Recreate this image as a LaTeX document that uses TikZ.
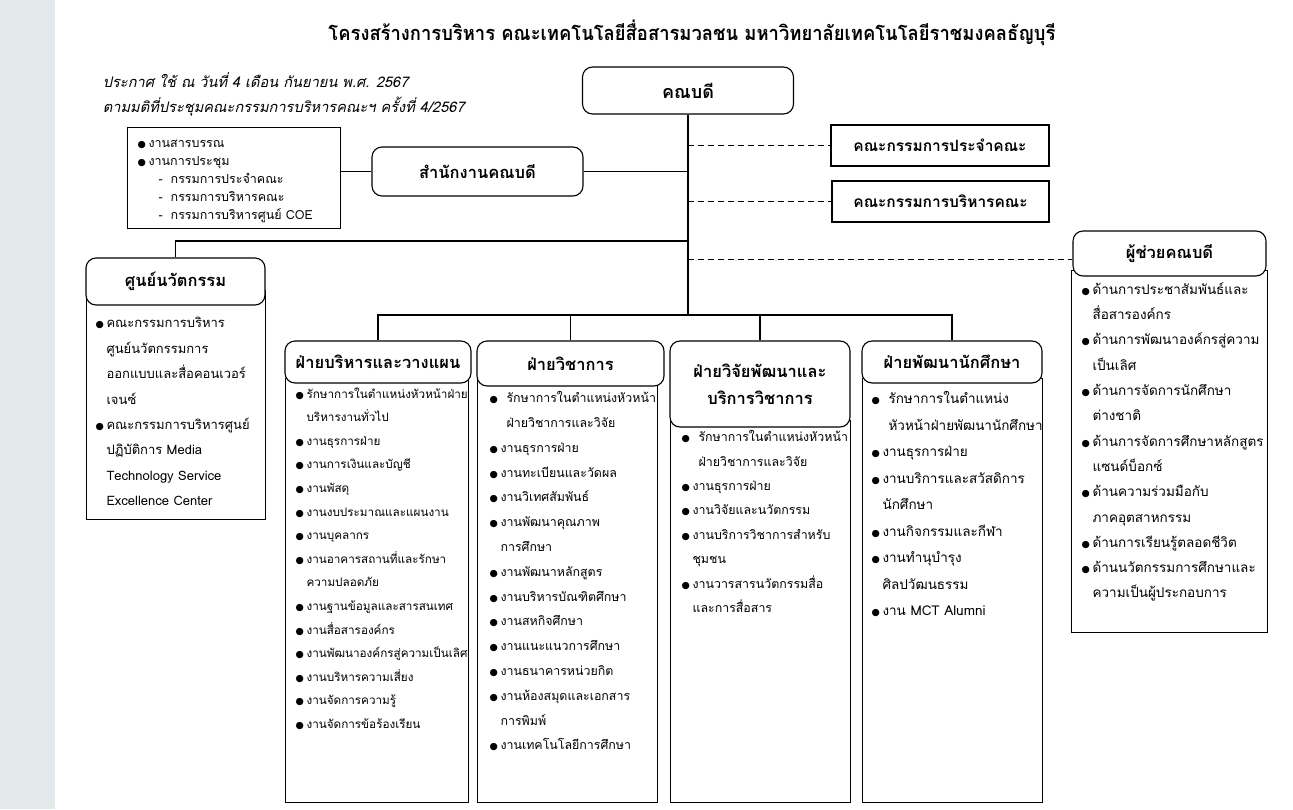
\documentclass[tikz,border=0pt]{standalone}
\usepackage{fontspec}
\setmainfont[Script=Thai]{Loma}
\newfontfamily\titlefont[Script=Thai, FakeStretch=0.92]{Loma}
\newfontfamily\symfont{DejaVu Sans}
\usepackage{xcolor}
\usepackage{tikz}
\usetikzlibrary{positioning}
\definecolor{stripgray}{HTML}{E3E9EB}
\tikzstyle{head} = [draw, rounded corners=10pt, fill=white, align=center, inner sep=0pt, font=\fontsize{16.5}{27}\selectfont\bfseries]
\tikzstyle{plainbox} = [draw, rectangle, fill=white, align=center, inner sep=0pt, font=\fontsize{15.5}{18}\selectfont\bfseries]
\tikzstyle{listbox} = [draw, rectangle, anchor=north west, inner sep=0pt]
\tikzstyle{items} = [anchor=north west, align=left, inner sep=0pt]
\tikzstyle{dashline} = [dash pattern=on 6pt off 4pt, line width=0.9pt]
\newcommand{\bl}{\makebox[11pt][l]{\symfont\fontsize{9.5}{9}\selectfont ●}}
\newcommand{\ct}{\hspace*{11pt}}
\newcommand{\blw}{\makebox[17pt][l]{\symfont\fontsize{9.5}{9}\selectfont ●}}
\newcommand{\ctw}{\hspace*{17pt}}

\begin{document}
\begin{tikzpicture}[x=1pt, y=-1pt, line width=1.1pt]
    % พื้นหลัง
    \useasboundingbox (0,0) rectangle (1293,809);
    \fill[white] (0,0) rectangle (1293,809);
    \fill[stripgray] (0,0) rectangle (55,809);

    % หัวเรื่อง
    \node [font=\titlefont\fontsize{20}{24}\selectfont\bfseries] (title) at (692,33) {โครงสร้างการบริหาร คณะเทคโนโลยีสื่อสารมวลชน มหาวิทยาลัยเทคโนโลยีราชมงคลธัญบุรี};
    \node [anchor=west, font=\fontsize{14.6}{18}\selectfont\itshape] (note1) at (99,80) {ประกาศ ใช้ ณ วันที่ 4 เดือน กันยายน พ.ศ. 2567};
    \node [anchor=west, font=\fontsize{14.6}{18}\selectfont\itshape] (note2) at (99,107) {ตามมติที่ประชุมคณะกรรมการบริหารคณะฯ ครั้งที่ 4/2567};

    % คณบดี และ สำนักงาน
    \node [head, minimum width=211pt, minimum height=47pt, font=\fontsize{18}{22}\selectfont\bfseries] (dean) at (688,90.5) {คณบดี};
    \node [head, minimum width=211pt, minimum height=49pt] (office) at (477.5,171.5) {สำนักงานคณบดี};
    \node [listbox, minimum width=213pt, minimum height=101pt] (secbox) at (127,127) {};
    \node [items, font=\fontsize{12.5}{17.8}\selectfont] (secitems) at (137,140) {\bl งานสารบรรณ\\ \bl งานการประชุม\\ \hspace*{21pt}-\hspace*{8pt}กรรมการประจำคณะ\\ \hspace*{21pt}-\hspace*{8pt}กรรมการบริหารคณะ\\ \hspace*{21pt}-\hspace*{8pt}กรรมการบริหารศูนย์ COE};

    % คณะกรรมการ
    \node [plainbox, minimum width=218pt, minimum height=41pt] (board1) at (940,145.5) {คณะกรรมการประจำคณะ};
    \node [plainbox, minimum width=217pt, minimum height=41pt] (board2) at (940.5,201.5) {คณะกรรมการบริหารคณะ};

    % ศูนย์นวัตกรรม
    \node [listbox, minimum width=179pt, minimum height=229pt] (innovbox) at (86,290) {};
    \node [head, minimum width=179pt, minimum height=47pt] (innov) at (175.5,281.5) {ศูนย์นวัตกรรม};
    \node [items, font=\fontsize{13}{25.4}\selectfont] (innovitems) at (95,317) {\bl คณะกรรมการบริหาร\\ \ct ศูนย์นวัตกรรมการ\\ \ct ออกแบบและสื่อคอนเวอร์\\ \ct เจนซ์\\ \bl คณะกรรมการบริหารศูนย์\\ \ct ปฏิบัติการ Media\\ \ct Technology Service\\ \ct Excellence Center};

    % ผู้ช่วยคณบดี
    \node [listbox, minimum width=196pt, minimum height=362pt] (asstbox) at (1071,270) {};
    \node [head, minimum width=193pt, minimum height=45pt] (asst) at (1169.5,253.5) {ผู้ช่วยคณบดี};
    \node [items, font=\fontsize{13.5}{25.3}\selectfont] (asstitems) at (1081,282) {\bl ด้านการประชาสัมพันธ์และ\\ \ct สื่อสารองค์กร\\ \bl ด้านการพัฒนาองค์กรสู่ความ\\ \ct เป็นเลิศ\\ \bl ด้านการจัดการนักศึกษา\\ \ct ต่างชาติ\\ \bl ด้านการจัดการศึกษาหลักสูตร\\ \ct แซนด์บ็อกซ์\\ \bl ด้านความร่วมมือกับ\\ \ct ภาคอุตสาหกรรม\\ \bl ด้านการเรียนรู้ตลอดชีวิต\\ \bl ด้านนวัตกรรมการศึกษาและ\\ \ct ความเป็นผู้ประกอบการ};

    % ฝ่ายต่าง ๆ
    \node [listbox, minimum width=183pt, minimum height=424pt] (planbox) at (285,378) {};
    \node [head, minimum width=186pt, minimum height=42pt] (plan) at (378,362) {ฝ่ายบริหารและวางแผน};
    \node [items, font=\fontsize{11.7}{23.6}\selectfont] (planitems) at (295,387) {\bl รักษาการในตำแหน่งหัวหน้าฝ่าย\\ \ct บริหารงานทั่วไป\\ \bl งานธุรการฝ่าย\\ \bl งานการเงินและบัญชี\\ \bl งานพัสดุ\\ \bl งานงบประมาณและแผนงาน\\ \bl งานบุคลากร\\ \bl งานอาคารสถานที่และรักษา\\ \ct ความปลอดภัย\\ \bl งานฐานข้อมูลและสารสนเทศ\\ \bl งานสื่อสารองค์กร\\ \bl งานพัฒนาองค์กรสู่ความเป็นเลิศ\\ \bl งานบริหารความเสี่ยง\\ \bl งานจัดการความรู้\\ \bl งานจัดการข้อร้องเรียน};

    \node [listbox, minimum width=180pt, minimum height=422pt] (acadbox) at (477,380) {};
    \node [head, minimum width=187pt, minimum height=45pt] (acad) at (570.5,363.5) {ฝ่ายวิชาการ};
    \node [items, font=\fontsize{12.4}{24.8}\selectfont] (acaditems) at (489,391) {\blw รักษาการในตำแหน่งหัวหน้า\\ \ctw ฝ่ายวิชาการและวิจัย\\ \bl งานธุรการฝ่าย\\ \bl งานทะเบียนและวัดผล\\ \bl งานวิเทศสัมพันธ์\\ \bl งานพัฒนาคุณภาพ\\ \ct การศึกษา\\ \bl งานพัฒนาหลักสูตร\\ \bl งานบริหารบัณฑิตศึกษา\\ \bl งานสหกิจศึกษา\\ \bl งานแนะแนวการศึกษา\\ \bl งานธนาคารหน่วยกิต\\ \bl งานห้องสมุดและเอกสาร\\ \ct การพิมพ์\\ \bl งานเทคโนโลยีการศึกษา};

    \node [listbox, minimum width=180pt, minimum height=382pt] (resbox) at (670,420) {};
    \node [head, minimum width=180pt, minimum height=86pt] (res) at (760,384) {ฝ่ายวิจัยพัฒนาและ\\บริการวิชาการ};
    \node [items, font=\fontsize{12.4}{24.4}\selectfont] (resitems) at (681,430) {\blw รักษาการในตำแหน่งหัวหน้า\\ \ctw ฝ่ายวิชาการและวิจัย\\ \bl งานธุรการฝ่าย\\ \bl งานวิจัยและนวัตกรรม\\ \bl งานบริการวิชาการสำหรับ\\ \ct ชุมชน\\ \bl งานวารสารนวัตกรรมสื่อ\\ \ct และการสื่อสาร};

    \node [listbox, minimum width=180pt, minimum height=424pt] (studbox) at (862,378) {};
    \node [head, minimum width=180pt, minimum height=42pt] (stud) at (952,362) {ฝ่ายพัฒนานักศึกษา};
    \node [items, font=\fontsize{13.5}{26.5}\selectfont] (studitems) at (871,391) {\blw รักษาการในตำแหน่ง\\ \ctw หัวหน้าฝ่ายพัฒนานักศึกษา\\ \bl งานธุรการฝ่าย\\ \bl งานบริการและสวัสดิการ\\ \ct นักศึกษา\\ \bl งานกิจกรรมและกีฬา\\ \bl งานทำนุบำรุง\\ \ct ศิลปวัฒนธรรม\\ \bl งาน MCT Alumni};

    % เส้นเชื่อม
    \coordinate (bus) at (688,315);
    \coordinate (innovjoin) at (688,241);
    \draw (dean.south) -- (bus);
    \draw (office.east) -- (office.east -| dean.south);
    \draw (secbox.east |- office.west) -- (office.west);
    \draw [dashline] (dean.south |- board1.west) -- (board1.west);
    \draw [dashline] (dean.south |- board2.west) -- (board2.west);
    \draw [dashline] (dean.south |- 0,259) -- (asst.west |- 0,259);
    \draw (innovjoin) -| (innov.north);
    \draw (plan.north) |- (bus) -| (stud.north);
    \draw (acad.north) -- (acad.north |- bus);
    \draw (res.north) -- (res.north |- bus);
\end{tikzpicture}
\end{document}
